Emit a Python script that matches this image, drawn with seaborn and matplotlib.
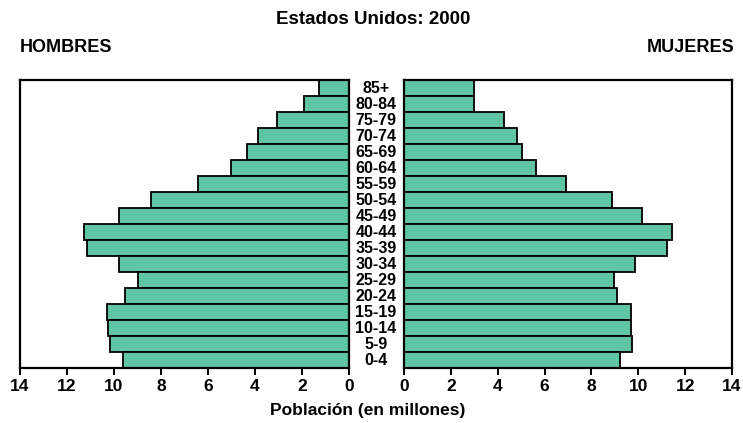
import matplotlib
matplotlib.use("Agg")
import matplotlib.pyplot as plt
import matplotlib.transforms as mtransforms
import seaborn as sns
import pandas as pd

sns.set_theme(style="white")
plt.rcParams["font.family"] = ["Liberation Sans", "DejaVu Sans"]
plt.rcParams["text.color"] = "black"
plt.rcParams["xtick.color"] = "black"

# Age groups, oldest at the top
ages = ["85+", "80-84", "75-79", "70-74", "65-69", "60-64", "55-59", "50-54",
        "45-49", "40-44", "35-39", "30-34", "25-29", "20-24", "15-19",
        "10-14", "5-9", "0-4"]
# Population in millions
hombres = [1.27, 1.91, 3.08, 3.87, 4.34, 5.02, 6.44, 8.44, 9.79, 11.26,
           11.14, 9.79, 8.98, 9.55, 10.29, 10.25, 10.18, 9.62]
mujeres = [2.99, 2.99, 4.27, 4.84, 5.05, 5.63, 6.91, 8.89, 10.17, 11.42,
           11.22, 9.85, 8.96, 9.09, 9.67, 9.71, 9.72, 9.23]
xticks = [0, 2, 4, 6, 8, 10, 12, 14]

df = pd.DataFrame({"edad": ages, "hombres": hombres, "mujeres": mujeres})

W, H = 743, 423
fig = plt.figure(figsize=(W / 100, H / 100), dpi=100)
fig.patch.set_facecolor("white")

bar_color = "#60c5a5"
ax_l = fig.add_axes([20 / W, 55 / H, 329 / W, 288 / H])
ax_r = fig.add_axes([404 / W, 55 / H, 328 / W, 288 / H])

for ax, col in ((ax_l, "hombres"), (ax_r, "mujeres")):
    sns.barplot(data=df, x=col, y="edad", order=ages, orient="h",
                color=bar_color, edgecolor="black", linewidth=1.3,
                width=1.0, saturation=1, ax=ax)
    ax.set_ylim(len(ages) - 0.5, -0.5)
    ax.set_xticks(xticks)
    ax.set_xticklabels([str(t) for t in xticks], fontsize=12.5,
                       fontweight="bold", color="black")
    ax.set_yticks([])
    ax.set_xlabel("")
    ax.set_ylabel("")
    ax.tick_params(axis="x", direction="out", length=5, width=1.4,
                   color="black", pad=3, bottom=True)
    for s in ax.spines.values():
        s.set_visible(True)
        s.set_color("black")
        s.set_linewidth(1.6)
    ax.set_facecolor("white")

ax_l.set_xlim(14, 0)
ax_r.set_xlim(0, 14)

# Age group labels between the two panels
trans = mtransforms.blended_transform_factory(fig.transFigure, ax_r.transData)
for i, a in enumerate(ages):
    ax_r.text(376 / W, i, a, transform=trans, ha="center", va="center",
              fontsize=11.5, fontweight="bold", color="black")

fig.text(373 / W, 1 - 19 / H, "Estados Unidos: 2000", ha="center", va="center",
         fontsize=13.5, fontweight="bold", color="black")
fig.text(20 / W, 1 - 48 / H, "HOMBRES", ha="left", va="center",
         fontsize=13, fontweight="bold", color="black")
fig.text(735 / W, 1 - 48 / H, "MUJERES", ha="right", va="center",
         fontsize=13, fontweight="bold", color="black")
fig.text(368 / W, 1 - 410 / H, "Población (en millones)", ha="center",
         va="center", fontsize=12.5, fontweight="bold", color="black")

fig.savefig("out.png", dpi=100, facecolor="white")
